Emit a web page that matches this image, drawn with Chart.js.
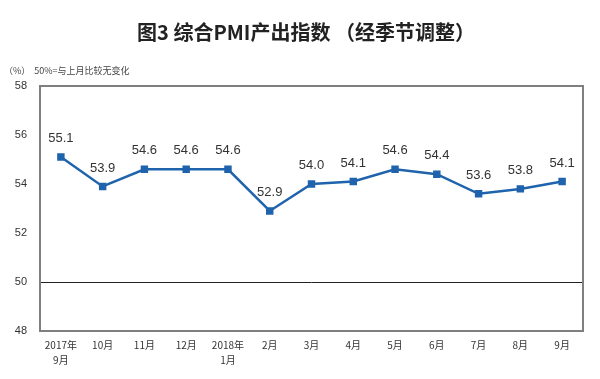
<!DOCTYPE html>
<html><head><meta charset="utf-8">
<script src="https://cdn.jsdelivr.net/npm/chart.js@4/dist/chart.umd.min.js"></script>
<style>html,body{margin:0;padding:0;background:#fff}#w{width:600px;height:379px}</style>
</head><body><div id="w"><canvas id="c"></canvas></div>
<script>
const categories = [["2017年","9月"],"10月","11月","12月",["2018年","1月"],"2月","3月","4月","5月","6月","7月","8月","9月"];
const values = [55.1,53.9,54.6,54.6,54.6,52.9,54.0,54.1,54.6,54.4,53.6,53.8,54.1];
const yTicks = [48,50,52,54,56,58];
const titleText = "图3 综合PMI产出指数 （经季节调整）";
const noteText = "（%）  50%=与上月比较无变化";
const FONT = '"Noto Sans CJK SC","Noto Sans",sans-serif';

const deco = {
  id:'deco',
  beforeDraw(chart){
    const ctx = chart.ctx;
    ctx.save();
    ctx.fillStyle='#fff';ctx.fillRect(0,0,chart.width,chart.height);
    ctx.fillStyle='#222';
    ctx.font='bold 20px '+FONT;
    ctx.textAlign='center';ctx.textBaseline='middle';
    ctx.fillText(titleText,306,32);
    ctx.font='9px '+FONT;ctx.fillStyle='#444';ctx.textAlign='left';
    ctx.fillText(noteText,4,71);
    ctx.restore();
  },
  afterDatasetsDraw(chart){
    const ctx=chart.ctx, a=chart.chartArea;
    ctx.save();
    ctx.strokeStyle='#7f7f7f';ctx.lineWidth=2;
    ctx.strokeRect(a.left,a.top,a.right-a.left,a.bottom-a.top);
    const meta=chart.getDatasetMeta(0);
    ctx.font='13px "Liberation Sans",Arial,sans-serif';ctx.fillStyle='#333';
    ctx.textAlign='center';ctx.textBaseline='bottom';
    meta.data.forEach((p,i)=>{ctx.fillText(values[i].toFixed(1),p.x,p.y-12);});
    ctx.restore();
  }
};

new Chart(document.getElementById('c'),{
  type:'line',
  data:{labels:categories,datasets:[{data:values,borderColor:'#1f63ad',backgroundColor:'#1f63ad',borderWidth:2.5,pointStyle:'rect',pointRadius:3.5,pointBackgroundColor:'#1f63ad',pointBorderColor:'#1f63ad',tension:0}]},
  options:{
    responsive:true,maintainAspectRatio:false,animation:false,devicePixelRatio:1,
    layout:{padding:{top:86,right:17,left:0,bottom:0}},
    plugins:{legend:{display:false},tooltip:{enabled:false}},
    scales:{
      x:{offset:true,grid:{display:false,drawTicks:false},border:{display:false},
        ticks:{color:'#333',font:{size:10,family:FONT,lineHeight:1.5},padding:7,maxRotation:0,autoSkip:false},
        afterFit(s){s.height=48;}},
      y:{min:48,max:58,grid:{drawTicks:false,color:c=>c.tick&&c.tick.value===50?'#222':'rgba(0,0,0,0)',lineWidth:1},border:{display:false},
        afterBuildTicks(s){s.ticks=yTicks.map(v=>({value:v}));},
        ticks:{color:'#333',font:{size:11,family:'"Liberation Sans",Arial,sans-serif'},padding:13},
        afterFit(s){s.width=40;}}
    }
  },
  plugins:[deco]
});
</script></body></html>
